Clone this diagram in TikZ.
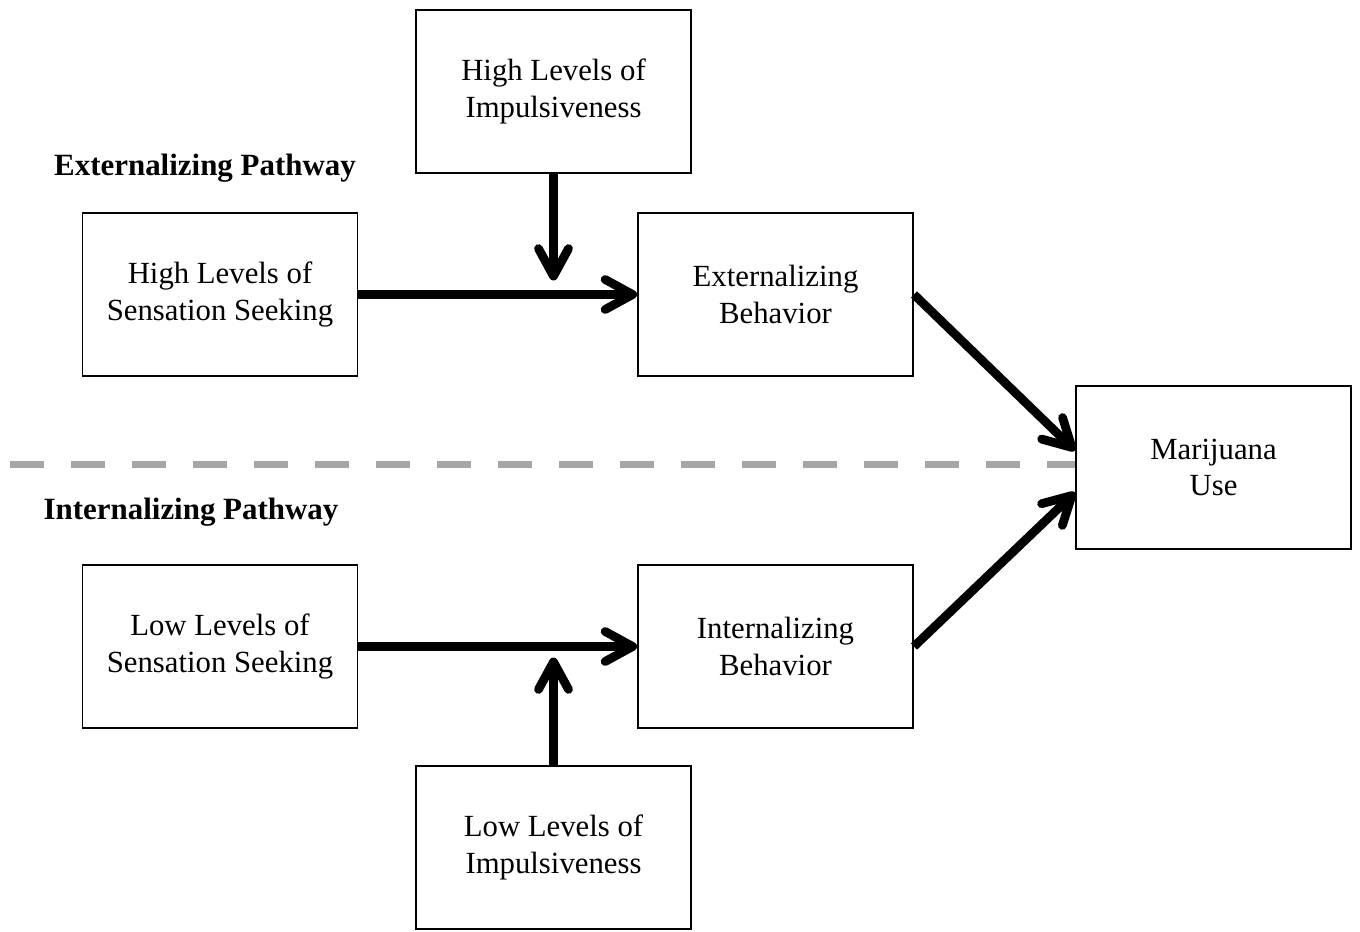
\documentclass[tikz,border=0pt]{standalone}
\usepackage{fontspec}
\setmainfont{Liberation Serif}
\usetikzlibrary{arrows.meta}
\usetikzlibrary{calc}
\usetikzlibrary{positioning}

\begin{document}
\begin{tikzpicture}[black, line width = 1.1pt,
    box/.style = {rectangle, draw, fill = white, minimum width = 5.5cm, minimum height = 3.26cm,
                  align = center, font = \fontsize{17.5}{21}\selectfont},
    pathway/.style = {font = \fontsize{17.6}{21}\selectfont\bfseries},
    arr/.style = {line width = 5pt, line cap = butt,
                  -{Straight Barb[length = 0.55cm, width = 0.6cm, line cap = round, line join = round]}},
    divider/.style = {line width = 4.5pt, gray!70, dash pattern = on 0.68cm off 0.54cm}]
    \useasboundingbox (0,0) rectangle (27.2,-18.62);

    % dividing line between the two pathways
    \coordinate (dashStart) at (0.2,-9.29);

    \begin{scope}[on grid]
        \node (SensHigh) at (4.40,-5.89) [box] {High Levels of\\Sensation Seeking};
        \node (ExtBeh) [box, right = 11.11 of SensHigh] {Externalizing\\Behavior};
        \node (ImpHigh) [box, above right = 4.06 and 6.67 of SensHigh] {High Levels of\\Impulsiveness};
        \node (ExtLabel) [pathway, above left = 2.53 and 0.30 of SensHigh] {Externalizing Pathway};

        \node (Mari) [box, below right = 3.46 and 8.76 of ExtBeh] {Marijuana\\Use};

        \node (SensLow) [box, below = 7.04 of SensHigh] {Low Levels of\\Sensation Seeking};
        \node (IntBeh) [box, right = 11.11 of SensLow] {Internalizing\\Behavior};
        \node (ImpLow) [box, below right = 4.02 and 6.67 of SensLow] {Low Levels of\\Impulsiveness};
        \node (IntLabel) [pathway, above left = 2.69 and 0.58 of SensLow] {Internalizing Pathway};
    \end{scope}

    \draw[divider] (dashStart) -- (dashStart -| Mari.west);

    \coordinate (modHigh) at ($(ImpHigh.south |- SensHigh.east) + (0,0.28)$);
    \coordinate (modLow) at ($(ImpLow.north |- SensLow.east) + (0,-0.22)$);

    \draw[arr] (SensHigh.east) -- (ExtBeh.west);
    \draw[arr] (ImpHigh.south) -- (modHigh);
    \draw[arr] (SensLow.east) -- (IntBeh.west);
    \draw[arr] (ImpLow.north) -- (modLow);

    \draw[arr] (ExtBeh.east) -- ([yshift = 0.34cm] Mari.west);
    \draw[arr] (IntBeh.east) -- ([yshift = -0.5cm] Mari.west);

\end{tikzpicture}
\end{document}
